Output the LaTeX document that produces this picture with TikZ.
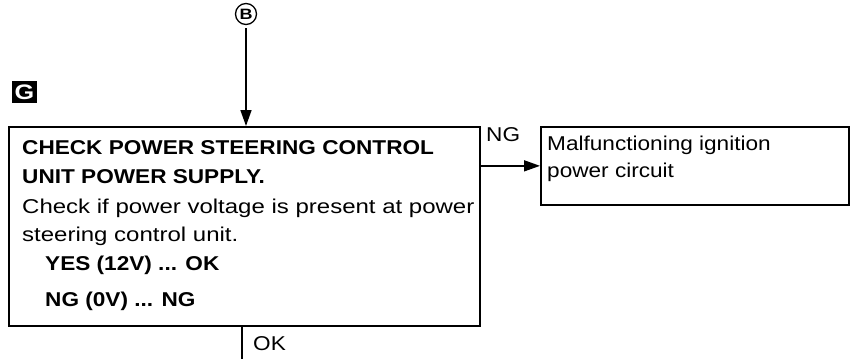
\documentclass[tikz,border=0pt]{standalone}
\usepackage{fontspec}
\setmainfont{Liberation Sans}[FakeStretch=1.2]
\newfontfamily\narrowf{Liberation Sans}[FakeStretch=1.13]
\usetikzlibrary{arrows.meta}
\begin{document}
\begin{tikzpicture}[x=1pt,y=-1pt,
  box/.style={draw,line width=1.7pt,inner sep=0pt,anchor=north west},
  txt/.style={anchor=base west,inner sep=0pt,font=\fontsize{20}{22}\selectfont},
  ntxt/.style={txt,font=\fontsize{20}{22}\selectfont\narrowf},
  btxt/.style={txt,font=\fontsize{20}{22}\selectfont\narrowf\bfseries},
  conn/.style={line width=1.6pt},
  arr/.style={conn,-{Triangle[length=16pt,width=11pt]}},
]
\useasboundingbox (0,0) rectangle (855,359);
% main check box
\node[box,minimum width=471pt,minimum height=199pt] (check) at (8,126) {};
\node[btxt] (l1) at (22,154) {CHECK POWER STEERING CONTROL};
\node[btxt] (l2) at (22,183) {UNIT POWER SUPPLY.};
\node[txt]  (l3) at (22,213.5) {Check if power voltage is present at power};
\node[txt]  (l4) at (22,241.5) {steering control unit.};
\node[btxt] (l5) at (45,270) {YES (12V) ... OK};
\node[btxt] (l6) at (45,306.5) {NG (0V) ... NG};
% result box
\node[box,minimum width=308pt,minimum height=78pt] (malf) at (540,126) {};
\node[ntxt] (m1) at (547,150) {Malfunctioning ignition};
\node[ntxt] (m2) at (547,177) {power circuit};
% G label
\node[fill=black,text=white,inner sep=0pt,minimum width=25pt,minimum height=22pt,
      font=\fontsize{21}{21}\selectfont\bfseries] (G) at (24.5,92) {G};
% B connector
\node[draw,circle,line width=1.3pt,inner sep=0pt,minimum size=21pt,
      font=\fontsize{15}{15}\selectfont\bfseries] (B) at (246,14) {B};
\draw[arr,shorten <=3pt] (B) -- (B |- check.north);
% NG connector
\draw[arr] (malf.west -| check.east) -- (malf.west);
\node[ntxt] (ng) at (486,141) {NG};
% OK connector
\coordinate (okend) at (242,359);
\draw[conn] (check.south -| okend) -- (okend);
\node[ntxt] (ok) at (253,350) {OK};
\end{tikzpicture}
\end{document}
